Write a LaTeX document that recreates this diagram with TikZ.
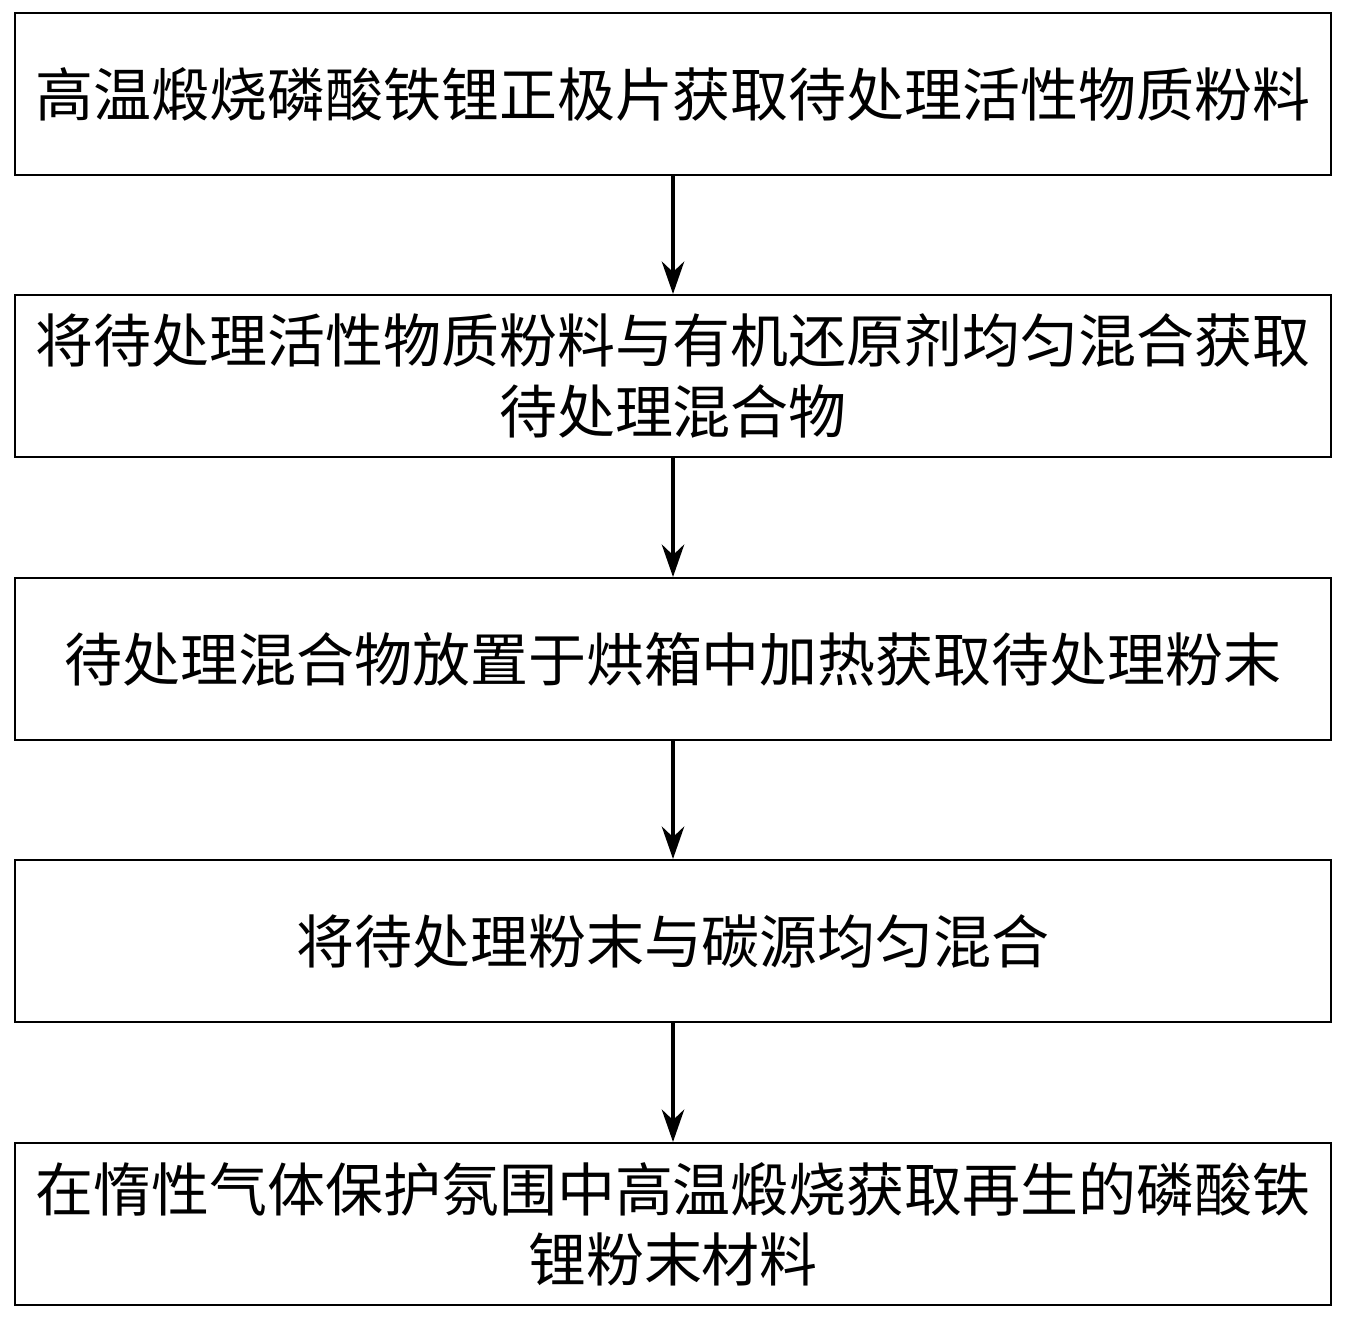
\documentclass[tikz,border=0pt]{standalone}
\usepackage{fontspec}
\setmainfont{Noto Sans CJK SC}
\usetikzlibrary{arrows.meta, positioning}
\tikzset{
    stepbox/.style={rectangle, draw, line width=1.2pt, minimum width=26.32cm, minimum height=3.24cm, align=center, font=\fontsize{33}{40}\selectfont},
    arrow/.style={line width=2pt, -{Stealth[length=0.65cm, width=0.45cm]}}
}
\begin{document}
\begin{tikzpicture}[x=0.02cm, y=-0.02cm]
        \useasboundingbox (0,0) rectangle (1346,1319);

        % Steps
        \node (S1) [stepbox] at (673,94) {高温煅烧磷酸铁锂正极片获取待处理活性物质粉料};
        \node (S2) [stepbox] at (673,376) {将待处理活性物质粉料与有机还原剂均匀混合获取\\待处理混合物};
        \node (S3) [stepbox] at (673,659) {待处理混合物放置于烘箱中加热获取待处理粉末};
        \node (S4) [stepbox] at (673,941) {将待处理粉末与碳源均匀混合};
        \node (S5) [stepbox] at (673,1224) {在惰性气体保护氛围中高温煅烧获取再生的磷酸铁\\锂粉末材料};

        % Arrows
        \draw[arrow] (S1) -- (S2);
        \draw[arrow] (S2) -- (S3);
        \draw[arrow] (S3) -- (S4);
        \draw[arrow] (S4) -- (S5);

\end{tikzpicture}
\end{document}
